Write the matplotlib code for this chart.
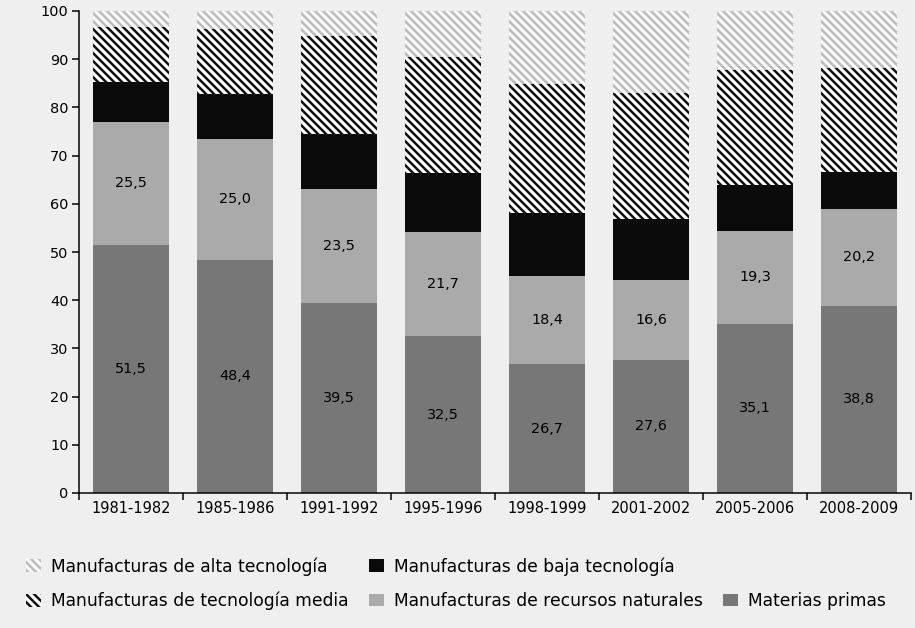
import numpy as np
import matplotlib.pyplot as plt
from matplotlib.patches import Patch

plt.rcParams['font.family'] = ['DejaVu Sans']
plt.rcParams['hatch.linewidth'] = 1.5

# ---------------- data (percent of exports) ----------------
periods = ['1981-1982', '1985-1986', '1991-1992', '1995-1996',
           '1998-1999', '2001-2002', '2005-2006', '2008-2009']
materias_primas = [51.5, 48.4, 39.5, 32.5, 26.7, 27.6, 35.1, 38.8]
recursos_naturales = [25.5, 25.0, 23.5, 21.7, 18.4, 16.6, 19.3, 20.2]
baja_tecnologia = [8.3, 9.3, 11.5, 12.1, 12.9, 12.6, 9.5, 7.6]
tecnologia_media = [11.4, 13.6, 20.4, 24.2, 26.8, 26.2, 23.8, 21.5]
alta_tecnologia = [3.3, 3.7, 5.1, 9.5, 15.2, 17.0, 12.3, 11.9]

BG = '#efefef'
W, H, DPI = 915, 628, 120
HATCH = '\\' * 5

fig = plt.figure(figsize=(W / DPI, H / DPI), dpi=DPI, facecolor=BG)
ax = fig.add_axes([79 / W, 1 - 493 / H, (911 - 79) / W, (493 - 11) / H])
ax.set_facecolor(BG)

x = np.arange(len(periods))
width = 0.74
bottom = np.zeros(len(periods))

b_mp = ax.bar(x, materias_primas, width, bottom=bottom, color='#777777', linewidth=0)
bottom += materias_primas
b_rn = ax.bar(x, recursos_naturales, width, bottom=bottom, color='#aaaaaa', linewidth=0)
bottom += recursos_naturales
b_bt = ax.bar(x, baja_tecnologia, width, bottom=bottom, color='#0a0a0a', linewidth=0)
bottom += baja_tecnologia
b_tm = ax.bar(x, tecnologia_media, width, bottom=bottom, facecolor='white',
              edgecolor='#111111', linewidth=0, hatch=HATCH)
bottom += tecnologia_media
b_at = ax.bar(x, alta_tecnologia, width, bottom=bottom, facecolor='#f8f8f8',
              edgecolor='#bdbdbd', linewidth=0, hatch=HATCH)

def fmt(vals):
    return [f'{v:.1f}'.replace('.', ',') for v in vals]

ax.bar_label(b_mp, labels=fmt(materias_primas), label_type='center', fontsize=8.6)
ax.bar_label(b_rn, labels=fmt(recursos_naturales), label_type='center', fontsize=8.6)

ax.set_xlim(-0.5, len(periods) - 0.5)
ax.set_ylim(0, 100)
ax.set_yticks(np.arange(0, 101, 10))
ax.set_xticks(x)
ax.set_xticklabels(periods)
ax.set_xticks(np.arange(-0.5, len(periods), 1), minor=True)
ax.tick_params(axis='x', which='major', length=0, labelsize=8.8, pad=5)
ax.tick_params(axis='x', which='minor', length=4.2, width=0.9, direction='out')
ax.tick_params(axis='y', length=4.2, width=0.9, labelsize=8.7, pad=2)
for s in ['top', 'right']:
    ax.spines[s].set_visible(False)
for s in ['left', 'bottom']:
    ax.spines[s].set_linewidth(0.9)

# legend: 3-column grid, row 1 has two items
blank = Patch(facecolor='none', edgecolor='none', label='')
handles = [
    Patch(facecolor='#f8f8f8', edgecolor='#bdbdbd', hatch=HATCH, linewidth=0,
          label='Manufacturas de alta tecnología'),
    Patch(facecolor='white', edgecolor='#111111', hatch=HATCH, linewidth=0,
          label='Manufacturas de tecnología media'),
    Patch(facecolor='#0a0a0a', label='Manufacturas de baja tecnología'),
    Patch(facecolor='#aaaaaa', label='Manufacturas de recursos naturales'),
    blank,
    Patch(facecolor='#777777', label='Materias primas'),
]
fig.legend(handles=handles, labels=[h.get_label() for h in handles], ncols=3,
           loc='upper left', bbox_to_anchor=(26 / W, 1 - 557 / H),
           frameon=False, fontsize=10.3, handlelength=0.85, handleheight=0.75,
           handletextpad=0.6, columnspacing=1.2, labelspacing=0.95, borderpad=0,
           borderaxespad=0)

fig.savefig('out.png', dpi=DPI, facecolor=BG)
